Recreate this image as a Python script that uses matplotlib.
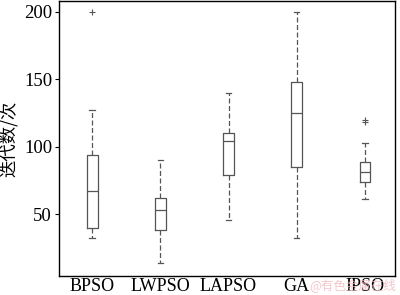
import matplotlib
matplotlib.use('Agg')
from matplotlib import pyplot as plt

# iteration counts
algos = ['BPSO', 'LWPSO', 'LAPSO', 'GA', 'IPSO']
whislo = [32, 14, 46, 32, 61]
q1 = [40, 38, 79, 85, 74]
med = [67, 53, 104, 125, 81]
q3 = [94, 62, 110, 148, 88.5]
whishi = [127, 90, 140, 200, 102.5]
fliers = [[200], [], [], [], [118, 120]]

stats = []
for i, name in enumerate(algos):
    stats.append(dict(label=name, whislo=whislo[i], q1=q1[i], med=med[i],
                      q3=q3[i], whishi=whishi[i], fliers=fliers[i]))

plt.rcParams['font.family'] = ['Liberation Serif', 'Noto Sans CJK SC']

fig = plt.figure(figsize=(4, 2.95), dpi=100)
ax = fig.add_axes([0.1475, 0.064, 0.84, 0.932])

grey = '#555555'
ax.bxp(stats, widths=0.16,
       boxprops=dict(color=grey, linewidth=0.9),
       medianprops=dict(color=grey, linewidth=0.9),
       whiskerprops=dict(color=grey, linewidth=0.9, linestyle=(0, (4, 2))),
       capprops=dict(color=grey, linewidth=0.9),
       flierprops=dict(marker='+', markeredgecolor=grey, markersize=5, markeredgewidth=0.8),
       capwidths=0.08)

ax.set_xlim(0.515, 5.44)
ax.set_ylim(4, 208)
ax.set_yticks([50, 100, 150, 200])
ax.tick_params(axis='y', labelsize=13.5, length=3, width=0.8, pad=2)
ax.tick_params(axis='x', labelsize=13, length=0, pad=1)
for s in ax.spines.values():
    s.set_linewidth(1.0)
ax.set_ylabel('迭代数/次', fontsize=12.5, family=['Noto Sans CJK SC'])
ax.yaxis.set_label_coords(-0.122, 0.5)

fig.text(0.99, 0.01, '@有色金属在线', color='#f0b8c0', fontsize=9, ha='right',
         va='bottom', family=['Noto Sans CJK SC'], alpha=0.8)

plt.savefig('out.png', dpi=100)
plt.close()
